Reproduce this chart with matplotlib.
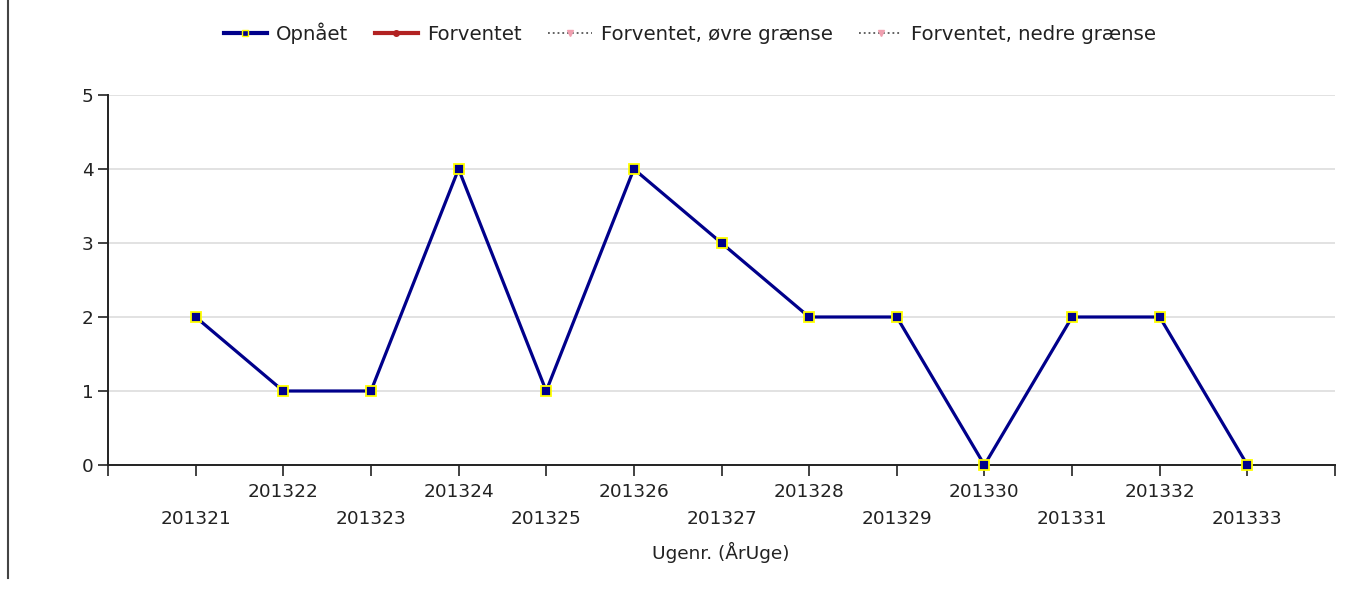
import matplotlib.pyplot as plt
from matplotlib.lines import Line2D

# Data
weeks = ["201321", "201322", "201323", "201324", "201325", "201326", "201327",
         "201328", "201329", "201330", "201331", "201332", "201333"]
achieved = [2, 1, 1, 4, 1, 4, 3, 2, 2, 0, 2, 2, 0]
legend_labels = ["Opnået", "Forventet", "Forventet, øvre grænse", "Forventet, nedre grænse"]

plt.rcParams["font.family"] = ["DejaVu Sans"]
text_color = "#222222"
fs = 13.3

fig = plt.figure(figsize=(13.69, 5.93), dpi=100)
ax = fig.add_axes([108 / 1369, 1 - 465 / 593, (1335 - 108) / 1369, (465 - 95) / 593])

x = list(range(1, len(weeks) + 1))
ax.plot(x, achieved, color="#00008b", lw=2.3, marker="s", ms=7,
        mfc="#00008b", mec="#ffff00", mew=1.3, zorder=3, clip_on=False)

ax.set_xlim(0, len(weeks) + 1)
ax.set_ylim(0, 5)
ax.set_yticks(range(0, 6))
ax.yaxis.grid(True, color="#dddddd", lw=1.2)
ax.set_axisbelow(True)

# ticks at every slot, labels staggered on two rows
ax.set_xticks(range(0, len(weeks) + 2))
ax.set_xticklabels([""] * (len(weeks) + 2))
for i, lab in enumerate(weeks):
    y_lab = -0.36 if i % 2 == 1 else -0.73
    ax.text(i + 1, y_lab, lab, ha="center", va="center",
            fontsize=fs, color=text_color, clip_on=False)

ax.tick_params(axis="both", length=7, width=1.2, color="#222222", labelsize=fs,
               labelcolor=text_color)
ax.tick_params(axis="x", length=8)
for side in ["top", "right"]:
    ax.spines[side].set_visible(False)
for side in ["left", "bottom"]:
    ax.spines[side].set_linewidth(1.4)
    ax.spines[side].set_color("#222222")

fig.text(721 / 1369, 1 - 552 / 593, "Ugenr. (ÅrUge)", ha="center", va="center",
         fontsize=fs, color=text_color)

# Left border line
fig.add_artist(Line2D([8 / 1369, 8 / 1369], [1 - 578 / 593, 1.0],
                      color="#444444", lw=1.5, transform=fig.transFigure))

handles = [
    Line2D([], [], color="#00008b", lw=3, marker="s", ms=5, mfc="#00008b",
           mec="#ffff00", mew=1.0),
    Line2D([], [], color="#b22222", lw=3, marker="o", ms=4, mfc="#b22222",
           mec="#b22222"),
    Line2D([], [], color="#555555", lw=1.3, ls=":", marker="v", ms=4,
           mfc="#f0a0b0", mec="#f0a0b0"),
    Line2D([], [], color="#555555", lw=1.3, ls=":", marker="v", ms=4,
           mfc="#f0a0b0", mec="#f0a0b0"),
]
fig.legend(handles, legend_labels, loc="center", bbox_to_anchor=(690 / 1369, 1 - 33 / 593),
           ncol=4, frameon=False, fontsize=14.2, handlelength=2.2, handletextpad=0.45,
           columnspacing=1.35, labelcolor=text_color)

fig.savefig("out.png", dpi=100)
